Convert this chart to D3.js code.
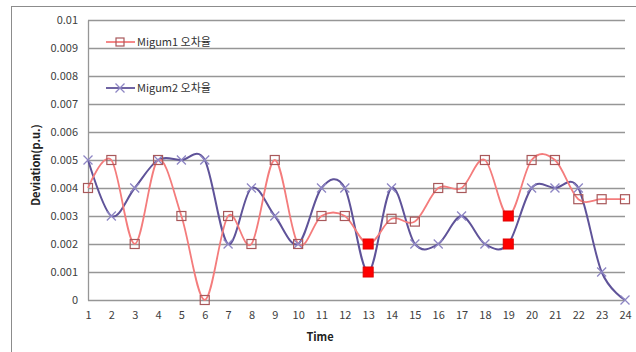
<!DOCTYPE html>
<html>
<head>
<meta charset="utf-8">
<script src="https://cdn.jsdelivr.net/npm/d3@7"></script>
<style>
  html, body { margin: 0; padding: 0; background: #fff; }
  svg { display: block; }
  text { font-family: "Noto Sans CJK KR", "Open Sans", sans-serif; }
</style>
</head>
<body>
<svg id="chart" width="636" height="352"></svg>
<script>
// Hourly deviation (p.u.) for the two Migum units
const hours = d3.range(1, 25);
const migum1 = [0.004, 0.005, 0.002, 0.005, 0.003, 0.000, 0.003, 0.002, 0.005, 0.002, 0.003, 0.003,
                0.002, 0.0029, 0.0028, 0.004, 0.004, 0.005, 0.003, 0.005, 0.005, 0.0036, 0.0036, 0.0036];
const migum2 = [0.005, 0.003, 0.004, 0.005, 0.005, 0.005, 0.002, 0.004, 0.003, 0.002, 0.004, 0.004,
                0.001, 0.004, 0.002, 0.002, 0.003, 0.002, 0.002, 0.004, 0.004, 0.004, 0.001, 0.000];
// Hours whose points are highlighted with a solid red marker
const highlightHours = [13, 19];
const yTicks = [0, 0.001, 0.002, 0.003, 0.004, 0.005, 0.006, 0.007, 0.008, 0.009, 0.01];
const seriesNames = ["Migum1 오차율", "Migum2 오차율"];

const svg = d3.select("#chart");

// outer frame
svg.append("rect").attr("x", 11.5).attr("y", 6.5).attr("width", 640).attr("height", 360)
  .attr("fill", "none").attr("stroke", "#8c8c8c").attr("stroke-width", 1);

const x = d3.scaleLinear().domain([1, 24]).range([88, 625]);
const y = d3.scaleLinear().domain([0, 0.01]).range([300, 20]);

// horizontal gridlines
svg.append("g").selectAll("line").data(yTicks).join("line")
  .attr("x1", x(1)).attr("x2", x(24))
  .attr("y1", d => Math.round(y(d)) + 0.5).attr("y2", d => Math.round(y(d)) + 0.5)
  .attr("stroke", "#969696").attr("stroke-width", 1.3);

// y axis
const yAxis = svg.append("g").attr("transform", `translate(${x(1)},0)`)
  .call(d3.axisLeft(y).tickValues(yTicks).tickSize(0).tickPadding(10)
    .tickFormat(d => d === 0 ? "0" : d3.format("")(+d.toFixed(3))));
yAxis.select(".domain").attr("stroke", "#969696").attr("stroke-width", 1.3);
yAxis.selectAll("text").attr("font-size", 11).attr("fill", "#404040");

// x axis
const xAxis = svg.append("g").attr("transform", `translate(0,${y(0)})`)
  .call(d3.axisBottom(x).tickValues(hours).tickSize(0).tickPadding(11).tickFormat(d3.format("d")));
xAxis.select(".domain").remove();
xAxis.selectAll("text").attr("font-size", 11).attr("fill", "#404040");

// axis titles
svg.append("text").attr("x", 320).attr("y", 341).attr("text-anchor", "middle")
  .attr("font-size", 11).attr("font-weight", "bold").attr("fill", "#222").text("Time");
svg.append("text").attr("transform", "translate(40,165) rotate(-90)").attr("text-anchor", "middle")
  .attr("font-size", 11).attr("font-weight", "bold").attr("fill", "#222").text("Deviation(p.u.)");

const line = d3.line().x((d, i) => x(hours[i])).y(d => y(d)).curve(d3.curveCardinal.tension(0));

const c1 = "#f47c7c", c1m = "#a8585a";
const c2 = "#5f5399", c2m = "#8e86c4";

function drawCross(g, cx, cy, color) {
  const s = 4.5;
  g.append("path").attr("d", `M${cx - s},${cy - s}L${cx + s},${cy + s}M${cx - s},${cy + s}L${cx + s},${cy - s}`)
    .attr("stroke", color).attr("stroke-width", 1.3).attr("fill", "none");
}

// series 2 (behind)
svg.append("path").datum(migum2).attr("d", line).attr("fill", "none").attr("stroke", c2).attr("stroke-width", 2);
// series 1
svg.append("path").datum(migum1).attr("d", line).attr("fill", "none").attr("stroke", c1).attr("stroke-width", 1.8);

const m2 = svg.append("g");
migum2.forEach((v, i) => {
  if (!highlightHours.includes(hours[i])) drawCross(m2, x(hours[i]), y(v), c2m);
});

svg.append("g").selectAll("rect").data(migum1.map((v, i) => [hours[i], v]).filter(d => !highlightHours.includes(d[0])))
  .join("rect")
  .attr("x", d => x(d[0]) - 4.5).attr("y", d => y(d[1]) - 4.5).attr("width", 9).attr("height", 9)
  .attr("fill", "none").attr("stroke", c1m).attr("stroke-width", 1.2);

// highlighted points of both series
const hl = [];
highlightHours.forEach(h => { hl.push([h, migum1[h - 1]]); hl.push([h, migum2[h - 1]]); });
svg.append("g").selectAll("rect").data(hl).join("rect")
  .attr("x", d => x(d[0]) - 5).attr("y", d => y(d[1]) - 5).attr("width", 10).attr("height", 10)
  .attr("fill", "#ff0000").attr("stroke", "#e00000");

// legend
const legend = svg.append("g");
[[42, c1, c1m, "sq"], [88, c2, c2m, "x"]].forEach(([ly, col, mcol, mk], i) => {
  legend.append("line").attr("x1", 106).attr("x2", 135).attr("y1", ly).attr("y2", ly)
    .attr("stroke", col).attr("stroke-width", 1.8);
  if (mk === "sq") {
    legend.append("rect").attr("x", 116).attr("y", ly - 4).attr("width", 8).attr("height", 8)
      .attr("fill", "none").attr("stroke", mcol).attr("stroke-width", 1.2);
  } else {
    drawCross(legend, 120, ly, mcol);
  }
  legend.append("text").attr("x", 137).attr("y", ly + 4).attr("font-size", 11).attr("fill", "#333")
    .text(seriesNames[i]);
});
</script>
</body>
</html>
